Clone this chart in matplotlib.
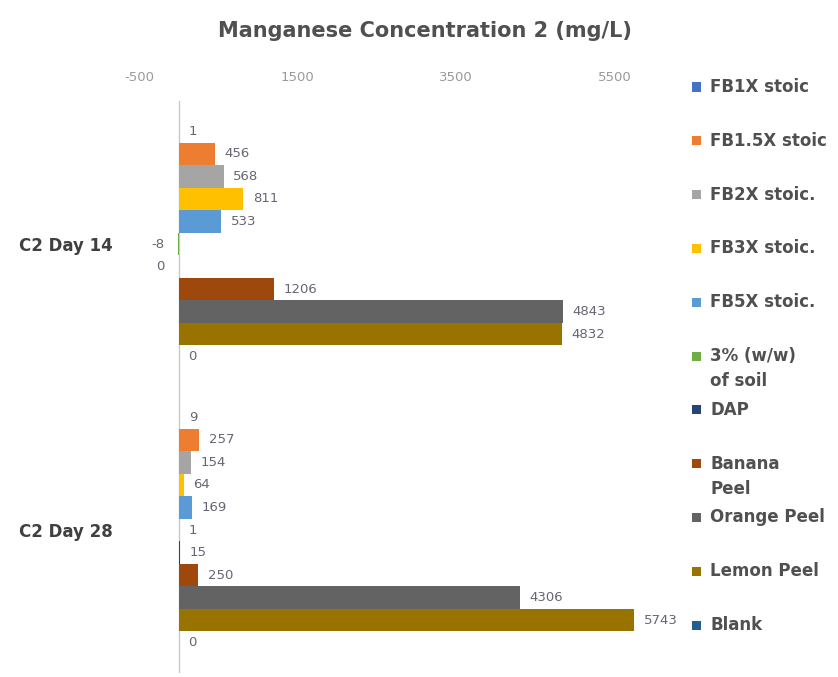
import matplotlib
matplotlib.use("Agg")
import matplotlib.pyplot as plt
from matplotlib.patches import Rectangle

plt.rcParams['font.family'] = ['DejaVu Sans']

categories = ["C2 Day 14", "C2 Day 28"]
series_names = ["FB1X stoic", "FB1.5X stoic", "FB2X stoic.", "FB3X stoic.", "FB5X stoic.",
                "3% (w/w)\nof soil", "DAP", "Banana\nPeel", "Orange Peel", "Lemon Peel", "Blank"]
day14 = [1, 456, 568, 811, 533, -8, -0.2, 1206, 4843, 4832, 0]
day28 = [9, 257, 154, 64, 169, 1, 15, 250, 4306, 5743, 0]
colors = ["#4472C4", "#ED7D31", "#A5A5A5", "#FFC000", "#5B9BD5", "#70AD47",
          "#264478", "#9E480E", "#636363", "#997300", "#255E91"]
xticks = [-500, 1500, 3500, 5500]

W, H = 838, 677
fig = plt.figure(figsize=(W / 100, H / 100), dpi=100)
ax = fig.add_axes([139 / W, 1 - 673 / H, (694 - 139) / W, (673 - 101) / H])

n = len(series_names)
h = 0.0787
values = [day14, day28]
for i in range(n):
    ys = [c + (i - (n - 1) / 2) * h for c in range(len(categories))]
    vals = [values[c][i] for c in range(len(categories))]
    ax.barh(ys, vals, height=h, color=colors[i], edgecolor='none')
    for y, v in zip(ys, vals):
        lab = str(int(round(v)))
        if v < 0:
            ax.annotate(lab, (0, y), xytext=(-10, 0), textcoords='offset points',
                        ha='right', va='center', fontsize=9.5, color='#656575')
        else:
            ax.annotate(lab, (v, y), xytext=(7, 0), textcoords='offset points',
                        ha='left', va='center', fontsize=9.5, color='#656575')

ax.set_xlim(-500, 6500)
ax.set_ylim(1.5, -0.5)
ax.set_xticks(xticks)
ax.set_xticklabels([str(t) for t in xticks])
ax.xaxis.tick_top()
ax.tick_params(axis='x', length=0, pad=12, labelsize=9.5, labelcolor='#9a9a9a')
ax.set_yticks(range(len(categories)))
ax.set_yticklabels(categories)
ax.tick_params(axis='y', length=0, pad=19, labelsize=12, labelcolor='#404040')
for lbl in ax.get_yticklabels():
    lbl.set_fontweight('bold')
for s in ax.spines.values():
    s.set_visible(False)
ax.axvline(0, color='#c8c8c8', lw=1, zorder=0)

fig.text(425 / W, 1 - 31 / H, "Manganese Concentration 2 (mg/L)", ha='center', va='center',
         fontsize=15, fontweight='bold', color='#505050')

# legend
y0, step, line = 87, 53.8, 25
for i, (name, col) in enumerate(zip(series_names, colors)):
    yc = y0 + i * step
    fig.patches.append(Rectangle((692 / W, 1 - (yc + 4.5) / H), 9 / W, 9 / H,
                                 transform=fig.transFigure, facecolor=col, edgecolor='none'))
    for k, ln in enumerate(name.split("\n")):
        fig.text(710 / W, 1 - (yc + k * line) / H, ln, ha='left', va='center',
                 fontsize=12, fontweight='bold', color='#505050')

fig.savefig("out.png", dpi=100)
